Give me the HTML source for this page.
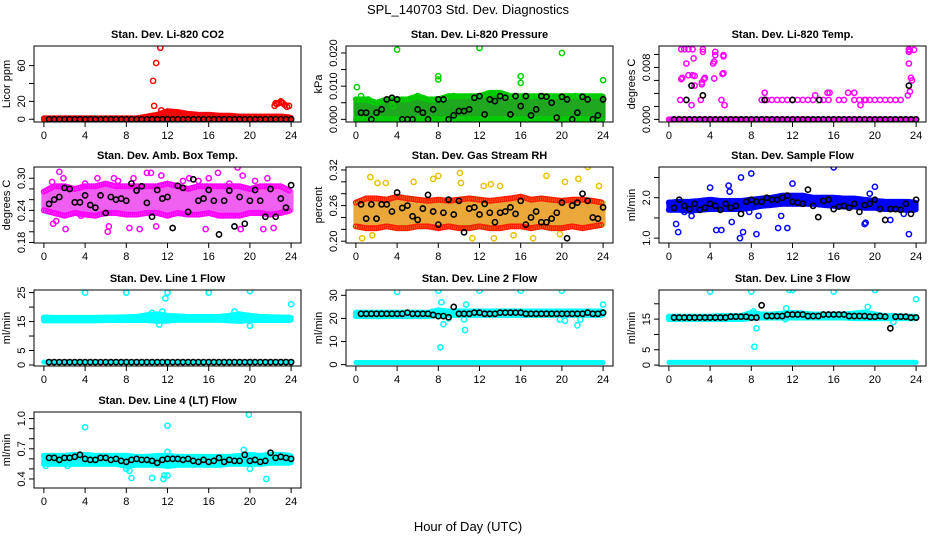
<!DOCTYPE html>
<html><head><meta charset="utf-8"><style>
html,body{margin:0;padding:0;background:#fff;}
svg{display:block;font-family:"Liberation Sans",Arial,sans-serif;}
</style></head><body>
<svg id="chart" width="936" height="540" viewBox="0 0 936 540" xmlns="http://www.w3.org/2000/svg">
<text x="468" y="14" text-anchor="middle" font-size="13">SPL_140703  Std. Dev. Diagnostics</text>
<text x="468" y="531" text-anchor="middle" font-size="13">Hour of Day (UTC)</text>
</svg>
<script>
// ---- data ----
const xTicks=[0,4,8,12,16,20,24];
const titles=["Stan. Dev. Li-820 CO2","Stan. Dev. Li-820 Pressure","Stan. Dev. Li-820 Temp.","Stan. Dev. Amb. Box Temp.","Stan. Dev. Gas Stream RH","Stan. Dev. Sample Flow","Stan. Dev. Line 1 Flow","Stan. Dev. Line 2 Flow","Stan. Dev. Line 3 Flow","Stan. Dev. Line 4 (LT) Flow"];
const yTitles=["Licor ppm","kPa","degrees C","degrees C","percent","ml/min","ml/min","ml/min","ml/min","ml/min"];
const yTicks=[[0,20,40,60],[0,0.005,0.010,0.015,0.020],[0,0.002,0.004,0.006,0.008,0.010],[0.18,0.20,0.22,0.24,0.26,0.28,0.30],[0.20,0.22,0.24,0.26,0.28,0.30,0.32],[1.0,1.5,2.0,2.5],[0,5,10,15,20,25],[0,10,20,30],[0,5,10,15,20],[0.4,0.5,0.6,0.7,0.8,0.9,1.0]];
const yTickLabels=[["0","20","","60"],["0.000","","0.010","","0.020"],["0.000","","","","0.008",""],["0.18","","","0.24","","","0.30"],["0.20","","","0.26","","","0.32"],["1.0","","2.0",""],["0","5","","15","","25"],["0","10","20","30"],["0","5","","15",""],["0.4","","","0.7","","","1.0"]];
const yLims=[[-3.1,82],[-0.0008,0.0221],[-0.0004,0.0113],[0.179,0.321],[0.197,0.325],[0.88,2.76],[-0.35,25.9],[-0.6,32.3],[-0.3,24.5],[0.31,1.066]];

const bandLo=[
[0,0,0,0,0,0,0,0,0,0,0,0,0,0,0,0,0,0,0,0,0,0,0,0,0],
[0,0,0,0,0,0,0,0,0,0,0,0,0,0,0,0,0,0,0,0,0,0,0,0,0],
[0,0,0,0,0,0,0,0,0,0,0,0,0,0,0,0,0,0,0,0,0,0,0,0,0],
[0.24,0.235,0.23,0.235,0.232,0.23,0.235,0.235,0.232,0.232,0.235,0.235,0.23,0.235,0.232,0.232,0.235,0.23,0.23,0.23,0.235,0.235,0.232,0.235,0.24],
[0.225,0.222,0.222,0.225,0.222,0.222,0.225,0.225,0.222,0.225,0.222,0.222,0.225,0.222,0.222,0.225,0.225,0.222,0.225,0.222,0.222,0.225,0.222,0.225,0.228],
[1.7,1.7,1.68,1.7,1.72,1.72,1.72,1.72,1.75,1.8,1.82,1.85,1.85,1.85,1.85,1.82,1.8,1.78,1.78,1.75,1.75,1.72,1.72,1.7,1.7],
[15.4,15.4,15.4,15.4,15.4,15.4,15.5,15.5,15.5,15.5,15.5,15.2,15.3,15.6,15.6,15.6,15.6,15.6,15.4,15.2,15.5,15.5,15.5,15.5,15.5],
[21,21,21,21,21,21,21,21,21.5,21.5,21.5,21.5,21.5,21.5,21.5,21.5,21.5,21.5,21.5,21.5,21.5,21.5,21.5,21.5,21.5],
[15,15,15,15,15,15,15,15,15.3,15.5,15.5,15.5,15.5,15.5,15.5,15.5,15.5,15.5,15.3,15.3,15.3,15.3,15.3,15.3,15.3],
[0.55,0.55,0.55,0.55,0.55,0.55,0.55,0.55,0.53,0.54,0.54,0.54,0.53,0.54,0.54,0.54,0.54,0.54,0.55,0.55,0.55,0.55,0.56,0.56,0.56]];
const bandHi=[
[1,1,1,1,1,1,1,1,1,1,3,5,9,8,6,5,5,4,4,3,3,3,3,3,2],
[0.006,0.006,0.005,0.006,0.006,0.006,0.007,0.006,0.006,0.007,0.007,0.007,0.007,0.008,0.008,0.007,0.007,0.007,0.007,0.007,0.007,0.007,0.007,0.007,0.007],
[0,0,0,0,0,0,0,0,0,0,0,0,0,0,0,0,0,0,0,0,0,0,0,0,0],
[0.275,0.285,0.285,0.28,0.285,0.285,0.29,0.285,0.285,0.285,0.285,0.285,0.29,0.285,0.28,0.285,0.285,0.285,0.285,0.285,0.28,0.285,0.285,0.285,0.275],
[0.265,0.272,0.272,0.27,0.275,0.272,0.27,0.268,0.27,0.268,0.27,0.272,0.27,0.268,0.27,0.272,0.275,0.27,0.272,0.27,0.268,0.27,0.27,0.268,0.265],
[1.88,1.9,1.9,1.92,1.95,1.92,1.92,1.92,1.95,1.98,2.0,2.05,2.05,2.05,2.0,2.0,2.0,1.98,1.98,1.95,1.92,1.9,1.9,1.9,1.88],
[16.4,16.3,16.3,16.3,16.3,16.3,16.4,16.4,16.5,16.6,17.2,17.5,17.0,16.8,16.6,16.6,16.6,16.6,17,17.5,17,16.6,16.5,16.4,16.4],
[22.5,22.5,22.5,22.5,22.5,22.5,22.5,22.5,23.5,23,23,23,23,23,23,23,23,23,23,23,23,23,23,23,23],
[15.8,15.8,15.8,15.8,15.8,16,16,16,17,16.5,16.5,16.8,17,16.8,16.5,16.5,16.5,16.5,16.8,17.2,16.5,16,16,15.8,15.8],
[0.63,0.63,0.63,0.64,0.64,0.63,0.63,0.63,0.63,0.62,0.62,0.63,0.63,0.62,0.62,0.62,0.62,0.62,0.62,0.63,0.64,0.63,0.64,0.64,0.63]];
const band2Value=[null,null,null,null,null,null,1.0,0.9,0.9,null];

const outX=[
[10.6,10.9,11.3,10.7,11.4,22.4,22.6,22.8,23,23.2,23.4,23.6,23.8,22.5,23.1],
[0.1,4,12,20,8,8,16,16,24,0.5,1.2,3.6,6,7.8,9.5,14.2,18.5,21.3],
[1.2,1.5,1.9,2.3,3.3,3.3,4.5,4.5,5.3,5.3,2.4,1.7,4.3,4.4,1.9,2.3,2.5,5.2,5.3,1.2,1.3,3.5,3.4,4.4,3.2,2.5,3.2,1.1,2.2,3.1,5.1,5.4,23.3,23.4,23.8,23.3,23.3,23.5,23.6,23.4,23.2,9.3,14.2,15.4,15.6,17.4,18,18.6,19.1,9,9.5,10,10.5,11,11.5,12,12.5,13,13.5,14,15,15.5,16.5,17,18,18.5,19,19.5,20,20.5,21,21.5,22,22.5],
[0.8,1.5,2.1,2.1,1.9,3.6,4,5.2,6.2,6.3,6.8,7.2,8.3,8.7,9.3,10,10.4,10.9,11.4,13.5,14.1,15,15.7,16,16.9,18,18.8,19.3,19.1,20.5,21.3,21.7,22.3,0.9,1.2],
[1.4,2.1,2.9,5.6,7.5,8,10.1,10.2,12.4,13.1,14,18.5,20.3,21.6,22.5,23.6,0.6,11.3,13.4,17.2,19.8,15.3,1.6],
[0.7,0.9,4,4.6,5.1,5.8,5.9,6.1,6.9,7,7.2,8,8.5,8.7,10.6,10.9,11.5,12,16,19,19.1,19.5,20,21.5,22.8,23.3,1.5,2.2,7.8],
[4,8,11.8,12,16,20,24,11.5,18.5,11.2,20,10.5],
[4,8,12,16,20,24,8.3,8.5,10.7,10.5,10.6,8.2,19.8,20.3,21.5,21.8,9],
[4,8,12,11.7,16,20,24,8.3,8.5,11.4,11.3,19.3,21.8,8.2],
[4,12,19.9,10.5,11.6,12,11.7,21.6,8.5,8.3,8,19.4,12,2.3,0.2,20]];
const outY=[
[43,63,80,15,10,15,17,18,20,18,16,14,15,18,19],
[0.0097,0.021,0.0215,0.020,0.013,0.012,0.013,0.011,0.0118,0.007,0.006,0.004,0.007,0.006,0.007,0.0075,0.0065,0.007],
[0.0108,0.0108,0.0108,0.0108,0.0108,0.0104,0.0104,0.0099,0.0099,0.0097,0.0094,0.0086,0.0086,0.0089,0.0068,0.0068,0.0067,0.0070,0.0071,0.0062,0.0064,0.0064,0.0062,0.0063,0.0057,0.0052,0.0054,0.0030,0.0022,0.0030,0.0030,0.0022,0.0108,0.0106,0.0107,0.0104,0.0086,0.0064,0.0060,0.0043,0.0037,0.0041,0.0037,0.0041,0.0041,0.0041,0.0041,0.0022,0.0030,0.0030,0.0030,0.0030,0.0030,0.0030,0.0030,0.0030,0.0030,0.0030,0.0030,0.0030,0.0030,0.0030,0.0030,0.0030,0.0030,0.0030,0.0030,0.0030,0.0030,0.0030,0.0030,0.0030,0.0030,0.0030],
[0.293,0.312,0.205,0.173,0.3,0.23,0.29,0.3,0.2,0.21,0.3,0.295,0.207,0.3,0.205,0.31,0.31,0.21,0.305,0.295,0.3,0.295,0.205,0.3,0.31,0.29,0.32,0.305,0.205,0.295,0.205,0.3,0.207,0.215,0.22],
[0.308,0.298,0.298,0.3,0.305,0.31,0.315,0.298,0.293,0.296,0.293,0.31,0.3,0.305,0.325,0.293,0.205,0.205,0.205,0.205,0.212,0.21,0.21],
[1.35,1.15,2.25,1.2,1.2,2.3,2.15,1.4,1.0,2.5,1.15,2.6,1.1,1.55,1.25,1.55,1.25,2.35,2.75,1.35,1.38,2.1,2.27,1.45,1.6,1.1,1.65,1.55,1.65],
[25,25,23,25,25,25.5,21,18.5,18.5,14,13.5,18],
[31.5,32,32,32,32,26,27,17.5,26,19.5,15,7.5,19.5,19,17,19.5,20],
[24,24,24.5,24.5,24,24.5,21.5,6,12,18.5,15,19,14,17.5],
[0.915,0.93,1.04,0.41,0.40,0.435,0.435,0.40,0.41,0.48,0.5,0.69,0.67,0.53,0.53,0.5]];

const blackY=[
[0,0,0,0,0,0,0,0,0,0,0,0,0,0,0,0,0,0,0,0,0,0,0,0,0,0,0,0,0,0,0,0,0,0,0,0,0,0,0,0,0,0,0,0,0,0,0,0],
[0.002,0.002,0,0.002,0.003,0.006,0.0065,0.006,0,0,0,0.003,0.002,0,0.003,0.006,0.006,0,0.0012,0.0025,0.0025,0.003,0.0065,0.007,0.0015,0.006,0.0055,0.007,0.0065,0.0015,0.007,0.004,0.007,0.0012,0.003,0.007,0.0068,0.005,0.0005,0.0068,0.006,0,0.002,0.0068,0.006,0,0.0012,0.006],
[0,0,0,0,0,0,0,0,0,0,0,0,0,0,0,0,0,0,0,0,0,0,0,0,0,0,0,0,0,0,0,0,0,0,0,0,0,0,0,0,0,0,0,0,0,0,0,0],
[0.252,0.26,0.265,0.282,0.28,0.255,0.255,0.268,0.25,0.245,0.268,0.235,0.265,0.26,0.262,0.258,0.29,0.277,0.285,0.254,0.228,0.278,0.262,0.265,0.207,0.286,0.282,0.237,0.298,0.258,0.262,0.278,0.258,0.195,0.258,0.277,0.21,0.265,0.215,0.258,0.278,0.258,0.228,0.28,0.228,0.262,0.245,0.287],
[0.262,0.238,0.262,0.238,0.262,0.262,0.25,0.282,0.256,0.26,0.242,0.236,0.255,0.278,0.25,0.228,0.248,0.27,0.245,0.268,0.215,0.255,0.257,0.245,0.263,0.248,0.232,0.248,0.25,0.257,0.246,0.268,0.228,0.24,0.25,0.232,0.232,0.238,0.248,0.265,0.205,0.26,0.265,0.28,0.268,0.24,0.238,0.257],
[1.75,1.95,1.8,1.72,1.85,1.7,1.75,1.85,1.8,1.7,1.85,1.75,1.8,1.6,1.9,1.95,1.9,1.9,2.0,1.95,1.95,2.0,2.05,1.9,1.88,1.85,2.2,1.8,1.52,1.92,1.95,1.72,1.78,1.8,1.75,1.85,1.65,1.82,1.85,1.95,1.72,1.45,1.72,1.72,1.7,1.85,1.6,1.95],
[1,1,1,1,1,1,1,1,1,1,1,1,1,1,1,1,1,1,1,1,1,1,1,1,1,1,1,1,1,1,1,1,1,1,1,1,1,1,1,1,1,1,1,1,1,1,1,1],
[22,22,22,22,22,22,22,22,22,22.5,22,22,22,22,21.5,21,21,20.5,25,22,22,22,22.5,22.5,22,22,22,22.5,22.5,22.5,22.5,22.5,22,22,22,22,22,22,22,22,22,22,22,22,22.5,22,22,22.5],
[15.5,15.5,15.5,15.5,15.5,15.5,15.5,15.5,15.5,15.5,15.5,15.8,15.8,15.8,15.8,15.5,15.5,19.5,16,16,16,16,16.5,16.5,16.5,16.5,16,16,16,16.5,16.5,16.5,16.5,16.5,16,16,16,16,15.8,15.8,16,15.8,12,15.8,15.8,15.8,15.5,15.5],
[0.61,0.61,0.59,0.61,0.61,0.62,0.64,0.60,0.59,0.59,0.61,0.61,0.59,0.60,0.58,0.57,0.59,0.60,0.59,0.59,0.58,0.56,0.59,0.60,0.60,0.60,0.59,0.60,0.58,0.57,0.59,0.57,0.58,0.61,0.57,0.59,0.58,0.58,0.64,0.58,0.59,0.57,0.58,0.66,0.61,0.62,0.61,0.60]];
const extraBlackX=[2.2,3.3,1.7,9.3,12,14.6,23.3];
const extraBlackY=[0.0052,0.0037,0.003,0.003,0.003,0.003,0.0052];

// ---- styling (not data) ----
const colors=["#ff0000","#1fa81f","#ff00ff","#f060f0","#eaa83a","#0000ff","#00ffff","#00ffff","#00ffff","#00ffff"];
const edgeColors=["#ff0000","#00d000","#ff00ff","#ff00ff","#ff2000","#0000ff","#00ffff","#00ffff","#00ffff","#00ffff"];
const outColors=["#ff0000","#00d000","#ff00ff","#ff00ff","#e8c000","#0000ff","#00ffff","#00ffff","#00ffff","#00ffff"];
const colLeft=[34,346,659], colW=267, rowTop=[46,167,290,412], rowH=76;
const NS="http://www.w3.org/2000/svg";
const svg=document.getElementById('chart');
function mk(tag,attrs,parent){const e=document.createElementNS(NS,tag);for(const k in attrs)e.setAttribute(k,attrs[k]);(parent||svg).appendChild(e);return e;}

titles.forEach((title,p)=>{
  const L=colLeft[p%3], T=rowTop[Math.floor(p/3)], B=T+rowH, R=L+colW;
  const g=mk('g',{});
  
  
  const xs=v=>L+colW*(v+0.96)/25.92;
  const [y0,y1]=yLims[p];
  const ys=v=>B-(v-y0)/(y1-y0)*rowH;
  const cp=mk('clipPath',{id:'cp'+p},g); mk('rect',{x:L,y:T,width:colW,height:rowH},cp);
  const pg=mk('g',{'clip-path':'url(#cp'+p+')'},g);
  const lo=bandLo[p], hi=bandHi[p];
  let pts=[];
  for(let i=0;i<25;i++)pts.push(xs(i)+','+ys(hi[i]));
  for(let i=24;i>=0;i--)pts.push(xs(i)+','+ys(lo[i]));
  const band=mk('polygon',{points:pts.join(' '),fill:colors[p],stroke:colors[p],'stroke-width':5,'stroke-linejoin':'round'},pg);
  
  
  for(let i=0;i<24;i++){for(let k=0;k<5;k++){const f=k/5,x=i+f;
    const l=lo[i]+(lo[i+1]-lo[i])*f,h=hi[i]+(hi[i+1]-hi[i])*f;
    mk('circle',{cx:xs(x),cy:ys(h),r:2.4,fill:'none',stroke:edgeColors[p],'stroke-width':1.3},pg);
    mk('circle',{cx:xs(x),cy:ys(l),r:2.4,fill:'none',stroke:edgeColors[p],'stroke-width':1.3},pg);}}
  if(band2Value[p]!==null){
    const b2=mk('line',{x1:xs(0),x2:xs(24),y1:ys(band2Value[p]),y2:ys(band2Value[p]),stroke:colors[p],'stroke-width':5,'stroke-linecap':'round'},pg);
    
    
  }
  outX[p].forEach((x,i)=>{
    const c=mk('circle',{cx:xs(x),cy:ys(outY[p][i]),r:2.6,fill:'none',stroke:outColors[p],'stroke-width':1.5},pg);
    
    
  });
  blackY[p].forEach((v,i)=>{
    const c=mk('circle',{cx:xs(0.5*(i+1)),cy:ys(v),r:2.6,fill:'none',stroke:'#000','stroke-width':1.6},pg);
    
    
  });
  if(p===2){extraBlackX.forEach((x,i)=>{
    const c=mk('circle',{cx:xs(x),cy:ys(extraBlackY[i]),r:2.6,fill:'none',stroke:'#000','stroke-width':1.6},pg);
    
    
  });}
  const box=mk('rect',{x:L,y:T,width:colW,height:rowH,fill:'none',stroke:'#000','stroke-width':1},g);
  
  
  const t=mk('text',{x:(L+R)/2,y:T-8,'text-anchor':'middle','font-size':11,'font-weight':'bold'},g);
  t.textContent=title;
  
  
  xTicks.forEach(v=>{
    mk('line',{x1:xs(v),x2:xs(v),y1:B,y2:B+5,stroke:'#000'},g);
    const tx=mk('text',{x:xs(v),y:B+17,'text-anchor':'middle','font-size':11},g);
    tx.textContent=v;
    
    
  });
  yTicks[p].forEach((v,i)=>{
    mk('line',{x1:L-5,x2:L,y1:ys(v),y2:ys(v),stroke:'#000'},g);
    const lab=yTickLabels[p][i];
    if(lab){const ty=mk('text',{x:L-9,y:ys(v),'text-anchor':'middle','font-size':11,transform:'rotate(-90 '+(L-9)+' '+ys(v)+')'},g);
      ty.textContent=lab;
      
      }
  });
  const yt=mk('text',{x:L-24,y:(T+B)/2,'text-anchor':'middle','font-size':11,transform:'rotate(-90 '+(L-24)+' '+((T+B)/2)+')'},g);
  yt.textContent=yTitles[p];
  
  
});
</script>
</body></html>
